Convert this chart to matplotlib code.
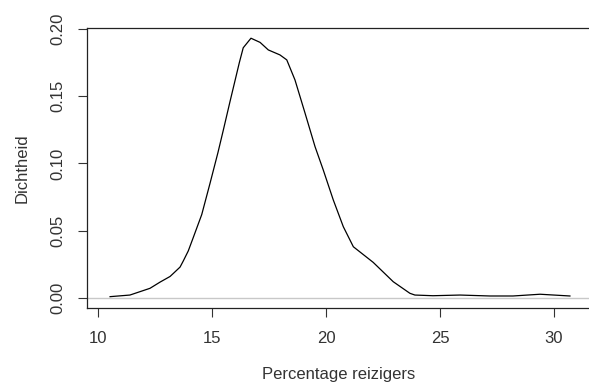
import matplotlib
matplotlib.use("Agg")

import matplotlib.pyplot as plt

# density estimate
x_vals = [10.53, 11.40, 12.28, 12.72, 13.16, 13.30, 13.60, 13.74, 13.96, 14.18,
          14.55, 14.91, 15.26, 15.50, 15.79, 16.20, 16.37, 16.71, 17.11, 17.47,
          17.98, 18.28, 18.64, 19.08, 19.52, 19.88, 20.32, 20.76, 21.20, 22.07,
          22.95, 23.68, 23.90, 24.69, 25.88, 27.19, 28.20, 29.39, 30.70]
density = [0.0010, 0.0022, 0.0072, 0.0118, 0.0160, 0.0182, 0.0230, 0.0275, 0.0350, 0.0450,
           0.0620, 0.0850, 0.1080, 0.1250, 0.1460, 0.1750, 0.1860, 0.1931, 0.1900, 0.1844,
           0.1807, 0.1770, 0.1621, 0.1375, 0.1125, 0.0952, 0.0729, 0.0530, 0.0381, 0.0265,
           0.0121, 0.0035, 0.0022, 0.0017, 0.0022, 0.0015, 0.0015, 0.0028, 0.0015]

x_ticks = [10, 15, 20, 25, 30]
y_ticks = [0.00, 0.05, 0.10, 0.15, 0.20]
y_labels = ["0.00", "0.05", "0.10", "0.15", "0.20"]

plt.rcParams["font.family"] = ["Liberation Sans", "DejaVu Sans"]
text_col = "#333333"

fig = plt.figure(figsize=(5.89, 3.85), dpi=100)
ax = fig.add_axes([87 / 589, 77 / 385, 503 / 589, 280 / 385])

ax.axhline(0, color="#c8c8c8", lw=1.0, zorder=1)
ax.plot(x_vals, density, color="black", lw=0.9, zorder=2)

ax.set_xlim(9.518, 31.58)
ax.set_ylim(-0.00743, 0.2007)

ax.set_xticks(x_ticks)
ax.set_yticks(y_ticks)
ax.set_yticklabels(y_labels, rotation=90, va="center")
ax.tick_params(direction="out", length=6.5, width=0.8, color="#333333",
               labelsize=12, labelcolor=text_col, pad=10)
ax.tick_params(axis="y", pad=9)

for side in ["left", "top", "bottom"]:
    ax.spines[side].set_linewidth(0.9)
    ax.spines[side].set_color("#222222")
ax.spines["right"].set_visible(False)

ax.set_xlabel("Percentage reizigers", fontsize=12, color=text_col, labelpad=15)
ax.set_ylabel("Dichtheid", fontsize=12, color=text_col, labelpad=15)

fig.savefig("out.png", dpi=100)
